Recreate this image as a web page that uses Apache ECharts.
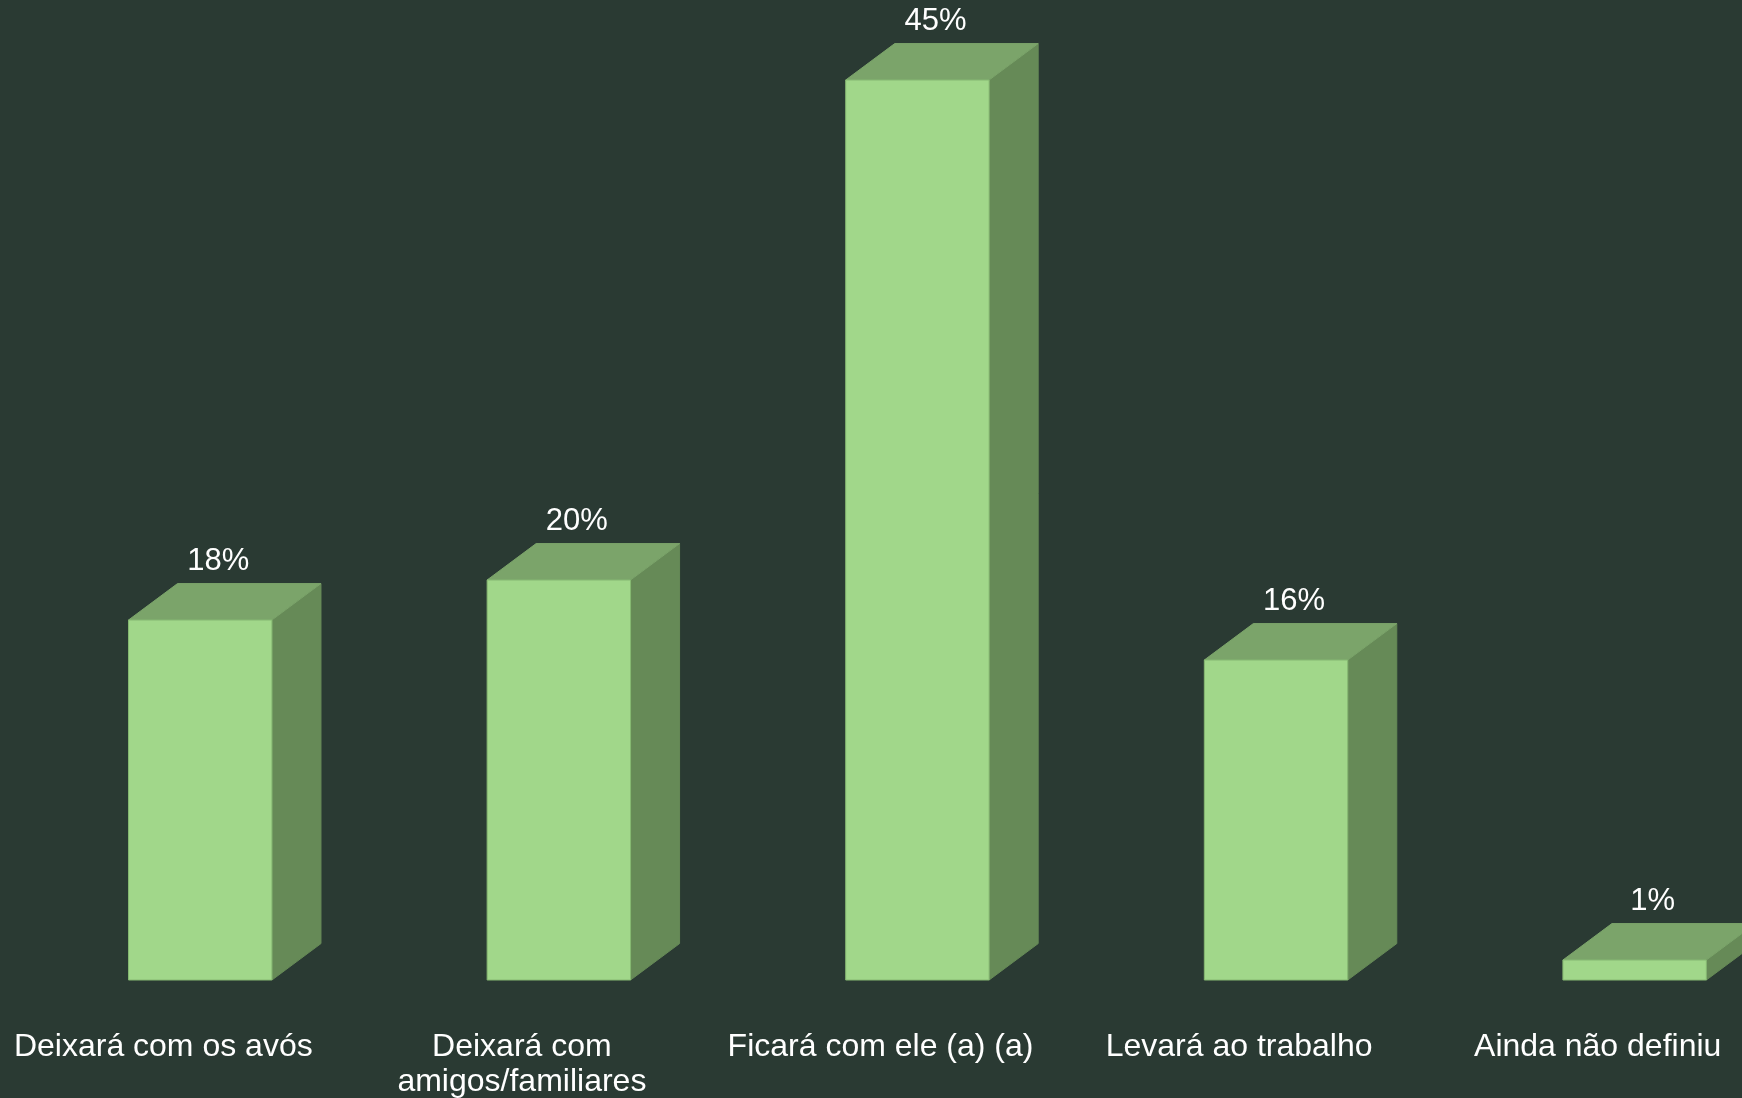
<!DOCTYPE html>
<html>
<head>
<meta charset="utf-8">
<script src="https://cdn.jsdelivr.net/npm/echarts@6/dist/echarts.min.js"></script>
<style>
  html, body { margin: 0; padding: 0; background: #2A3A33; }
  #chart { width: 1742px; height: 1098px; }
</style>
</head>
<body>
<div id="chart"></div>
<script>
const categories = ['Deixará com os avós', 'Deixará com\namigos/familiares', 'Ficará com ele (a) (a)', 'Levará ao trabalho', 'Ainda não definiu'];
const values = [18, 20, 45, 16, 1];
const valueLabels = ['18%', '20%', '45%', '16%', '1%'];

const chart = echarts.init(document.getElementById('chart'), null, { renderer: 'canvas' });

const FRONT = '#A1D78A', TOP = '#7BA46A', SIDE = '#668A57', EDGE = '#86B872';

function renderItem(params, api) {
  const i = api.value(0);
  const v = api.value(1);
  const topPt = api.coord([i, v]);
  const basePt = api.coord([i, 0]);
  const band = api.size([1, 0])[0];
  const left = topPt[0] - band * 0.097;
  const w = band * 0.40;
  const dx = band * 0.1367;
  const dy = dx * 0.743;
  const top = topPt[1];
  const base = basePt[1];
  return {
    type: 'group',
    children: [
      { type: 'polygon', shape: { points: [[left + w, top], [left + w + dx, top - dy], [left + w + dx, base - dy], [left + w, base]] },
        style: { fill: SIDE, stroke: SIDE, lineWidth: 1 } },
      { type: 'polygon', shape: { points: [[left, top], [left + dx, top - dy], [left + w + dx, top - dy], [left + w, top]] },
        style: { fill: TOP, stroke: TOP, lineWidth: 1 } },
      { type: 'rect', shape: { x: left, y: top, width: w, height: base - top },
        style: { fill: FRONT, stroke: EDGE, lineWidth: 1 } },
      { type: 'text', x: left + w / 2 + 18, y: top - dy - 22,
        style: { text: valueLabels[i], fill: '#FFFFFF', font: '31px "Liberation Sans", Arial, sans-serif', align: 'center', verticalAlign: 'middle' } }
    ]
  };
}

chart.setOption({
  backgroundColor: '#2A3A33',
  animation: false,
  grid: { left: -16, right: -35, top: 80, bottom: 118, containLabel: false, outerBoundsMode: 'none' },
  xAxis: {
    type: 'category',
    data: categories,
    axisLine: { show: false },
    axisTick: { show: false },
    axisLabel: {
      color: '#FFFFFF',
      fontSize: 32,
      fontFamily: '"Liberation Sans", Arial, sans-serif',
      lineHeight: 35,
      margin: 50,
      interval: 0,
      hideOverlap: false
    }
  },
  yAxis: {
    type: 'value',
    min: 0,
    max: 45,
    show: false,
    splitLine: { show: false }
  },
  series: [{
    type: 'custom',
    renderItem: renderItem,
    clip: false,
    data: values.map((v, i) => [i, v])
  }]
});
</script>
</body>
</html>
